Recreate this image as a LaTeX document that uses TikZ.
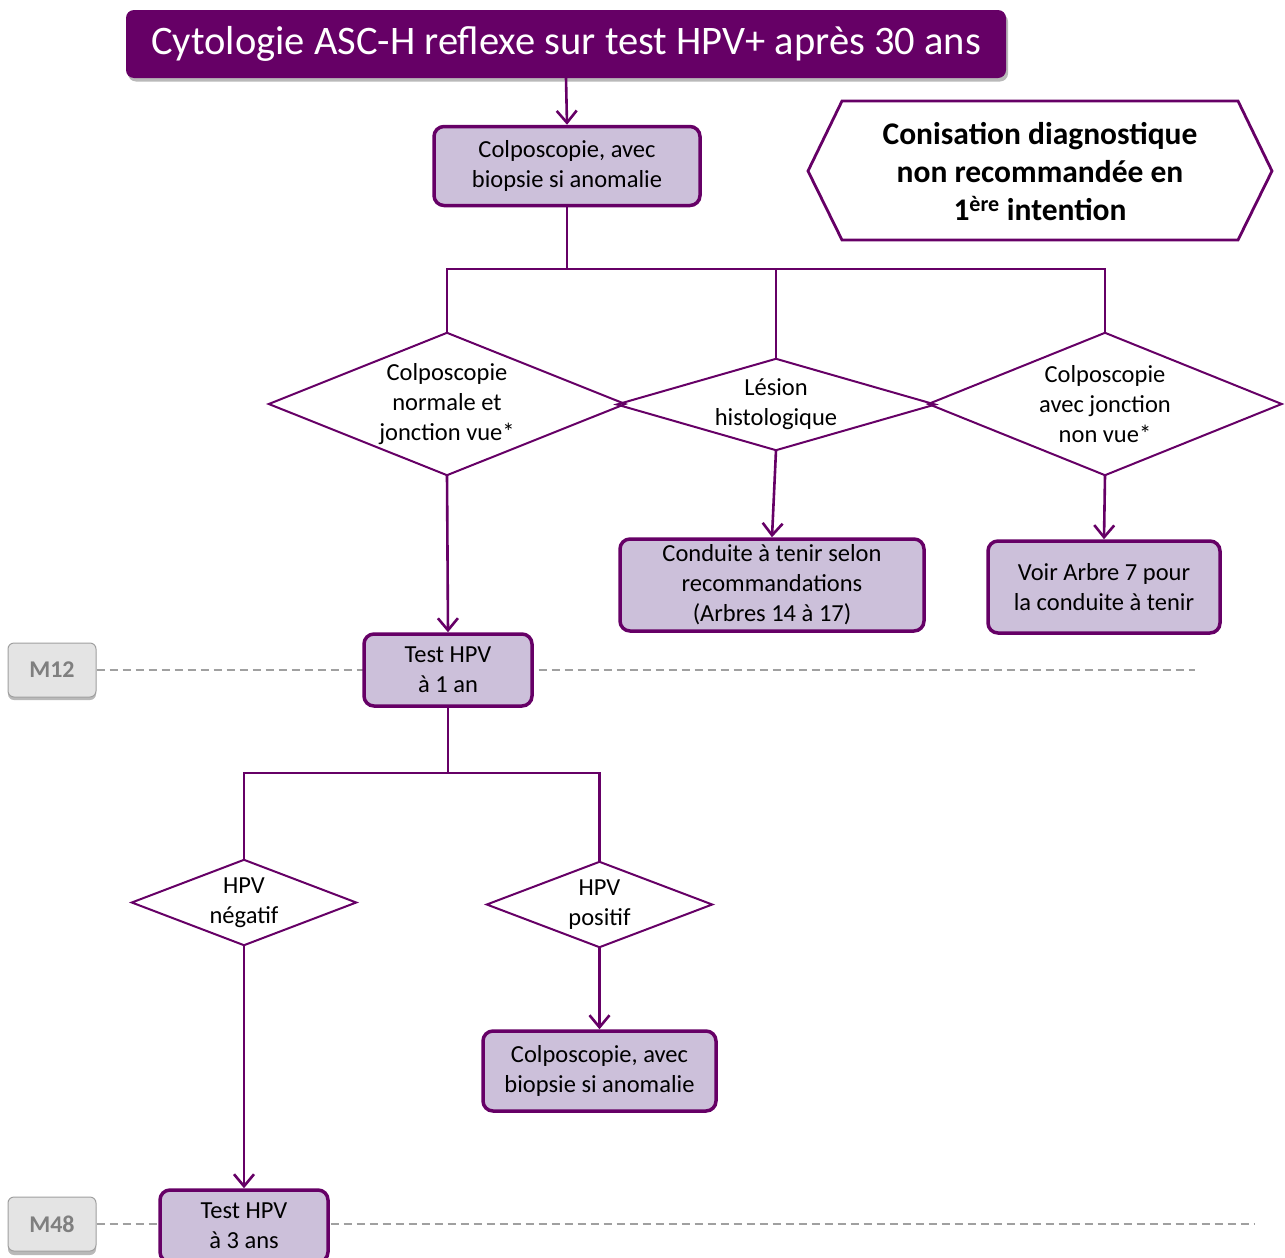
\documentclass[tikz,border=0pt]{standalone}
\usepackage{fontspec}
\setmainfont{Carlito}
\usetikzlibrary{arrows.meta}
\definecolor{dpurple}{HTML}{660066}
\definecolor{lpurple}{HTML}{CCC0DA}
\definecolor{lgray}{HTML}{E4E4E4}
\definecolor{mgray}{HTML}{A0A0A0}
\definecolor{tgray}{HTML}{7F7F7F}
\begin{document}
\begin{tikzpicture}[x=1pt,y=-1pt,
 body/.style={font=\fontsize{24.5}{30}\selectfont, align=center},
 pbox/.style={body, draw=dpurple, line width=3.5pt, fill=lpurple, rounded corners=10pt, inner sep=0pt},
 dtext/.style={body, inner sep=0pt},
 dline/.style={draw=dpurple, line width=2pt, line join=miter},
 conn/.style={draw=dpurple, line width=2.6pt},
 arr/.style={conn, -{Straight Barb[length=12pt,width=20pt,line width=2.6pt]}},
 mlabel/.style={draw=mgray, fill=lgray, rounded corners=6pt, line width=1pt, font=\bfseries\fontsize{24}{26}\selectfont, text=tgray, minimum width=88pt, minimum height=54pt, inner sep=0pt},
 mshadow/.style={fill=gray!55, rounded corners=6pt, minimum width=88pt, minimum height=54pt, inner sep=0pt},
 tl/.style={draw=mgray, dash pattern=on 8pt off 5pt, line width=1.3pt}
]
\useasboundingbox (0,0) rectangle (1285,1258);

% timelines
\node[mshadow] (m12s) at (52,673) {};
\node[mlabel] (m12) at (52,670) {M12};
\coordinate (t12end) at (1195,670);
\draw[tl] (m12.east) -- (t12end);
\node[mshadow] (m48s) at (52,1228) {};
\node[mlabel] (m48) at (52,1224) {M48};
\coordinate (t48end) at (1255,1224);
\draw[tl] (m48.east) -- (t48end);

% title
\node[fill=gray!55, rounded corners=8pt, minimum width=880pt, minimum height=68pt, inner sep=0pt] (titles) at (568,47.5) {};
\node[fill=dpurple, rounded corners=8pt, minimum width=880pt, minimum height=68pt, inner sep=0pt, text=white, font=\fontsize{40.5}{44}\selectfont] (title) at (566,44) {Cytologie ASC-H reflexe sur test HPV+ après 30 ans};

% boxes
\node[pbox, minimum width=266pt, minimum height=79pt] (box1) at (567,166) {Colposcopie, avec\\biopsie si anomalie};
\node[pbox, minimum width=304pt, minimum height=92pt] (cond) at (772,585) {Conduite à tenir selon\\recommandations\\(Arbres 14 à 17)};
\node[pbox, minimum width=232pt, minimum height=92pt] (voir) at (1104,587) {Voir Arbre 7 pour\\la conduite à tenir};
\node[pbox, minimum width=168pt, minimum height=72pt] (test1) at (448,670) {Test HPV\\à 1 an};
\node[pbox, minimum width=233pt, minimum height=80pt] (box2) at (599.5,1071) {Colposcopie, avec\\biopsie si anomalie};
\node[pbox, minimum width=168pt, minimum height=72pt] (test3) at (244,1226) {Test HPV\\à 3 ans};

% hexagon
\draw[draw=dpurple, line width=2.8pt, line join=miter] (808,171) -- (842,101) -- (1238,101) -- (1272,171) -- (1238,240) -- (842,240) -- cycle;
\node[font=\bfseries\fontsize{31.5}{38}\selectfont, align=center, inner sep=0pt] (conis) at (1040,172) {Conisation diagnostique\\non recommandée en\\1\textsuperscript{ère} intention};

% diamonds
\node[dtext, minimum width=356pt, minimum height=142pt] (d1) at (447,404) {Colposcopie\\normale et\\jonction vue*};
\draw[dline] (d1.north) -- (d1.east) -- (d1.south) -- (d1.west) -- cycle;
\node[dtext, minimum width=318pt, minimum height=91pt] (d2) at (776,404.5) {Lésion\\histologique};
\draw[dline] (d2.north) -- (d2.east) -- (d2.south) -- (d2.west) -- cycle;
\node[dtext, minimum width=353pt, minimum height=142pt] (d3) at (1105,404) {Colposcopie\\avec jonction\\non vue*};
\draw[dline] (d3.north) -- (d3.east) -- (d3.south) -- (d3.west) -- cycle;
\node[dtext, minimum width=224pt, minimum height=85pt] (dn) at (244,902.5) {HPV\\négatif};
\draw[dline] (dn.north) -- (dn.east) -- (dn.south) -- (dn.west) -- cycle;
\node[dtext, minimum width=225pt, minimum height=85pt] (dp) at (599.5,904.5) {HPV\\positif};
\draw[dline] (dp.north) -- (dp.east) -- (dp.south) -- (dp.west) -- cycle;

% connectors
\draw[arr] (title.south) -- (box1.north);
\coordinate (j1) at (567,269);
\draw[conn] (box1.south) -- (j1);
\draw[conn] (d1.north) -- (d1.north |- j1) -- (d3.north |- j1) -- (d3.north);
\draw[conn] (d2.north |- j1) -- (d2.north);
\draw[arr] (d1.south) -- (test1.north);
\draw[arr] (d2.south) -- (cond.north);
\draw[arr] (d3.south) -- (voir.north);
\coordinate (j2) at (448,773);
\draw[conn] (test1.south) -- (j2);
\draw[conn] (dn.north) -- (dn.north |- j2) -- (dp.north |- j2) -- (dp.north);
\draw[arr] (dn.south) -- (test3.north);
\draw[arr] (dp.south) -- (box2.north);
\end{tikzpicture}
\end{document}
